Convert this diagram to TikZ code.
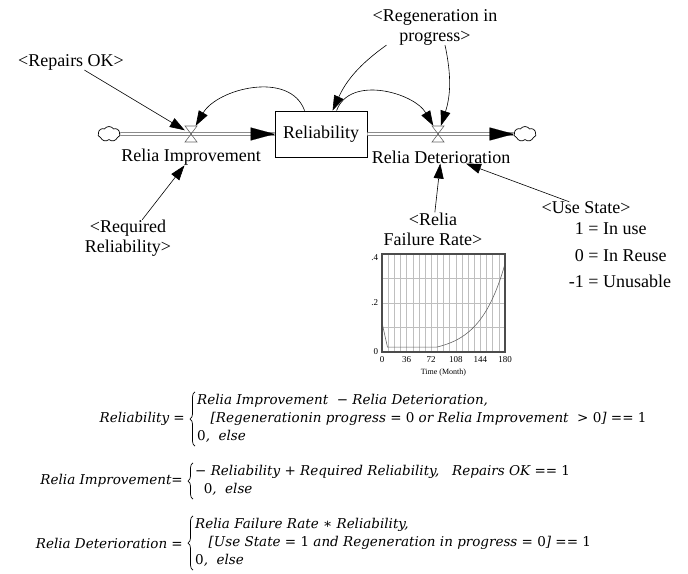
\documentclass[tikz,border=0pt]{standalone}
\usepackage{fontspec}
\setmainfont{Liberation Serif}
\newfontfamily\eqfont{DejaVu Serif}
\usetikzlibrary{arrows.meta, shapes.symbols, calc, decorations.pathreplacing}

\newcommand{\eqop}[1]{{\upshape #1}}

\begin{document}
\begin{tikzpicture}[x=1pt, y=1pt,
    lbl/.style={font=\fontsize{18}{20}\selectfont, align=center, inner sep=0pt},
    stockbox/.style={draw, line width=0.8pt, minimum width=92pt, minimum height=46pt, inner sep=0pt, font=\fontsize{18}{20}\selectfont},
    src/.style={cloud, cloud puffs=7, cloud puff arc=110, aspect=1.5, draw, line width=0.7pt, minimum width=22pt, minimum height=15pt, inner sep=0pt},
    pipe/.style={draw=black!70, double=white, double distance=2.6pt, line width=0.6pt},
    pipetip/.style={-{Triangle[length=24pt, width=13pt, fill=black]}},
    link/.style={-{Triangle[length=15pt, width=10pt]}, line width=0.6pt},
    valvept/.style={minimum width=12pt, minimum height=16pt, inner sep=0pt},
    flowvalve/.pic={\draw[black!60, line width=0.6pt] (0,0) -- (-6,8) -- (6,8) -- cycle (0,0) -- (-6,-8) -- (6,-8) -- cycle;},
    eqnode/.style={font=\eqfont\itshape\fontsize{13.5}{18}\selectfont, inner sep=0pt},
    eqbrace/.style={decorate, decoration={brace, amplitude=5pt}, line width=0.7pt},
    ticklbl/.style={font=\fontsize{9}{10}\selectfont, inner sep=1pt}]
    \useasboundingbox (0,0) rectangle (688,-573);

    % Stock, sources and valves
    \node[stockbox] (box) at (321,-134) {Reliability};
    \node[src] (srcL) at (109,-134) {};
    \node[src] (srcR) at (525,-134) {};
    \node[valvept] (vL) at (191,-134) {};
    \node[valvept] (vR) at (438,-134) {};

    % Flows
    \draw[pipe] (srcL) -- (box.west);
    \draw[pipetip, line width=0.1pt] ([xshift=-1pt]box.west) -- (box.west);
    \draw[pipe] (box.east) -- (srcR.west);
    \draw[pipetip, line width=0.1pt] ([xshift=-1pt]srcR.west) -- (srcR.west);
    \pic at (vL) {flowvalve};
    \pic at (vR) {flowvalve};
    \node[lbl] (improveLbl) at (191,-157) {Relia Improvement};
    \node[lbl] (deterLbl) at (441,-157) {Relia Deterioration};

    % Shadow variables
    \node[lbl] (repairs) at (71,-62) {<Repairs OK>};
    \node[lbl] (reqrel) at (128,-238) {<Required\\Reliability>};
    \node[lbl] (regen) at (435,-27) {<Regeneration in\\progress>};
    \node[lbl] (failrate) at (433,-229) {<Relia\\Failure Rate>};
    \node[lbl] (usestate) at (586,-208) {<Use State>};
    \node[lbl] (statevals) at (620,-256) {\fontsize{18}{26.5}\selectfont
        \begin{tabular}{@{}r@{ = }l@{}}1 & In use\\ 0 & In Reuse\\ -1 & Unusable\end{tabular}};

    % Links
    \draw[link] (repairs) -- (vL);
    \draw[link] (reqrel) -- (improveLbl);
    \draw[link] ([xshift=30pt]box.north west) to[out=110, in=60] (vL);
    \draw[link] ([xshift=62pt]box.north west) to[out=70, in=120] (vR);
    \draw[link] ([xshift=14pt]regen.south west) to[bend right=15] ([xshift=58pt]box.north west);
    \draw[link] ([xshift=10pt]regen.south) to[bend left=15] (vR);
    \draw[link] (failrate) -- (deterLbl);
    \draw[link] (usestate) -- ([xshift=25pt]deterLbl.south);

    % Failure rate graph
    \begin{scope}[shift={(382,-352)}, x=0.6833pt, y=245pt]
        \foreach \m in {9,18,...,171}
            \draw[black!25, line width=0.5pt] (\m,0) -- (\m,0.4);
        \foreach \v in {0.1,0.2,0.3}
            \draw[black!25, line width=0.5pt] (0,\v) -- (180,\v);
        \draw[black!60, line width=0.6pt] (0,0.12) -- (8,0.02) -- (80,0.02)
            -- plot[domain=80:180, samples=40] (\x, {0.02+0.34*(exp(0.027*(\x-80))-1)/13.88});
        \draw[black!70, line width=1.2pt] (0,0) rectangle (180,0.4);
        \foreach \m in {0,36,72,108,144,180}
            \node[ticklbl, anchor=north] at (\m,-0.015) {\m};
        \node[ticklbl, anchor=east] at (-4,0.385) {.4};
        \node[ticklbl, anchor=east] at (-4,0.2) {.2};
        \node[ticklbl, anchor=east] at (-4,0.0) {0};
        \node[ticklbl, font=\fontsize{8}{9}\selectfont] at (90,-0.085) {Time (Month)};
    \end{scope}

    % Equations
    \node[eqnode, anchor=east] (relLbl) at (185,-419) {Reliability \eqop{=}};
    \node[eqnode, anchor=west] (relBody) at (197,-419) {\begin{tabular}{@{}l@{}}Relia Improvement \ \eqop{−} Relia Deterioration,\\
        \quad[Regenerationin progress \eqop{= 0} or Relia Improvement \ \eqop{> 0}] \eqop{== 1}\\
        \eqop{0}, \ else\end{tabular}};
    \draw[eqbrace] ([xshift=-2pt]relBody.south west) -- ([xshift=-2pt]relBody.north west);
    \node[eqnode, anchor=east] (impLbl) at (183,-481) {Relia Improvement\eqop{=}};
    \node[eqnode, anchor=west] (impBody) at (195,-481) {\begin{tabular}{@{}l@{}}\eqop{−} Reliability \eqop{+} Required Reliability, \ \ Repairs OK \eqop{== 1}\\
        \ \ \eqop{0}, \ else\end{tabular}};
    \draw[eqbrace] ([xshift=-2pt]impBody.south west) -- ([xshift=-2pt]impBody.north west);
    \node[eqnode, anchor=east] (detLbl) at (183,-543) {Relia Deterioration \eqop{=}};
    \node[eqnode, anchor=west] (detBody) at (195,-543) {\begin{tabular}{@{}l@{}}Relia Failure Rate \eqop{∗} Reliability,\\
        \quad[Use State \eqop{= 1} and Regeneration in progress \eqop{= 0}] \eqop{== 1}\\
        \eqop{0}, \ else\end{tabular}};
    \draw[eqbrace] ([xshift=-2pt]detBody.south west) -- ([xshift=-2pt]detBody.north west);
\end{tikzpicture}
\end{document}
